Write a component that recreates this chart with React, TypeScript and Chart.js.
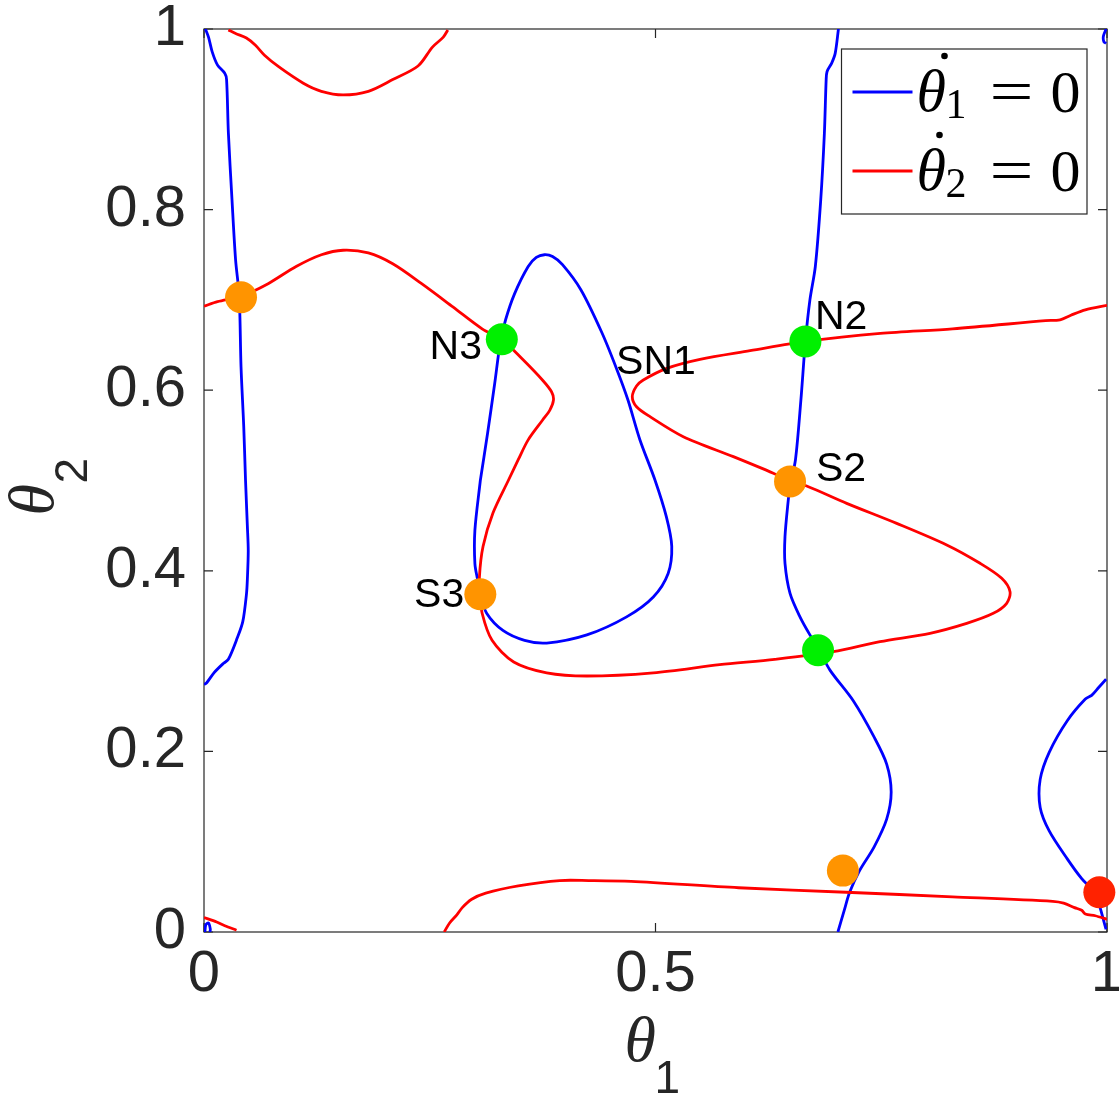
import React, { useEffect, useRef } from "react";
import { Chart, registerables } from "chart.js";

Chart.register(...registerables);

// ---------- data ----------
const xTickValues = [0, 0.5, 1];
const yTickValues = [0, 0.2, 0.4, 0.6, 0.8, 1];

// blue: theta1-dot = 0 nullcline pieces
const blueLeft: [number, number][] = [
  [0.0015, 1.0], [0.005, 0.991], [0.009, 0.975], [0.015, 0.96], [0.023, 0.951], [0.025, 0.944],
  [0.027, 0.885], [0.031, 0.811], [0.035, 0.744], [0.039, 0.704], [0.041, 0.626], [0.044, 0.56],
  [0.046, 0.5], [0.048, 0.45], [0.049, 0.422], [0.048, 0.39], [0.047, 0.374], [0.043, 0.344],
  [0.037, 0.326], [0.027, 0.302], [0.021, 0.297], [0.011, 0.287], [0.003, 0.276], [0.0, 0.274],
];
const blueMiddle: [number, number][] = [
  [0.7026, 1.0], [0.699, 0.973], [0.695, 0.962], [0.69, 0.953], [0.689, 0.944], [0.687, 0.884],
  [0.683, 0.811], [0.677, 0.737], [0.671, 0.7], [0.666, 0.654], [0.661, 0.589], [0.655, 0.523],
  [0.649, 0.494], [0.647, 0.478], [0.6434, 0.4378], [0.6434, 0.4083], [0.649, 0.375], [0.66, 0.349],
  [0.671, 0.329], [0.681, 0.313], [0.6932, 0.29], [0.719, 0.256], [0.742, 0.216], [0.756, 0.186],
  [0.761, 0.155], [0.756, 0.125], [0.742, 0.094], [0.726, 0.068], [0.715, 0.044], [0.709, 0.024],
  [0.702, 0.0],
];
const blueLoop: [number, number][] = [
  [0.306, 0.5], [0.3, 0.445], [0.3, 0.408], [0.303, 0.39], [0.306, 0.374], [0.313, 0.353],
  [0.331, 0.334], [0.355, 0.323], [0.3795, 0.32], [0.424, 0.329], [0.468, 0.349], [0.4976, 0.371],
  [0.514, 0.397], [0.518, 0.427], [0.512, 0.46], [0.4994, 0.5006], [0.4828, 0.5449], [0.4695, 0.5891],
  [0.4574, 0.6224], [0.4408, 0.6633], [0.4175, 0.711], [0.397, 0.739], [0.386, 0.748], [0.377, 0.75],
  [0.368, 0.747], [0.359, 0.737], [0.344, 0.707], [0.334, 0.678], [0.328, 0.652], [0.322, 0.608],
  [0.314, 0.552], [0.306, 0.5],
];
const blueRight: [number, number][] = [
  [0.999, 0.28], [0.991, 0.271], [0.983, 0.262], [0.976, 0.258], [0.956, 0.234], [0.936, 0.199],
  [0.926, 0.169], [0.926, 0.138], [0.936, 0.112], [0.956, 0.081], [0.972, 0.059], [0.987, 0.042],
  [0.999, 0.003],
];
const blueTopCorner: [number, number][] = [[0.999, 1.0], [0.996, 0.992], [0.9965, 0.986], [0.999, 0.984]];
const blueBottomCorner: [number, number][] = [[0.001, 0.0], [0.002, 0.008], [0.005, 0.01], [0.007, 0.003], [0.0065, 0.0]];

// red: theta2-dot = 0 nullcline pieces
const redTop: [number, number][] = [
  [0.027, 0.999], [0.035, 0.995], [0.047, 0.99], [0.057, 0.982], [0.067, 0.971], [0.083, 0.958],
  [0.11, 0.94], [0.13, 0.931], [0.154, 0.927], [0.182, 0.931], [0.209, 0.944], [0.237, 0.959],
  [0.253, 0.98], [0.265, 0.991], [0.27, 0.999],
];
const redMain: [number, number][] = [
  [0.0, 0.693], [0.015, 0.698], [0.041, 0.704], [0.071, 0.718], [0.102, 0.737], [0.13, 0.75],
  [0.154, 0.755], [0.182, 0.752], [0.209, 0.74], [0.241, 0.718], [0.276, 0.692], [0.308, 0.668],
  [0.33, 0.656], [0.352, 0.635], [0.375, 0.611], [0.385, 0.598], [0.387, 0.589], [0.383, 0.578],
  [0.375, 0.567], [0.359, 0.545], [0.348, 0.523], [0.337, 0.5], [0.32, 0.464], [0.309, 0.427],
  [0.305, 0.393], [0.306, 0.374], [0.308, 0.353], [0.319, 0.323], [0.343, 0.299], [0.3795, 0.287],
  [0.424, 0.2835], [0.4976, 0.287], [0.571, 0.296], [0.632, 0.302], [0.6969, 0.3104], [0.7486, 0.3215],
  [0.804, 0.3308], [0.8446, 0.3418], [0.8741, 0.3529], [0.8889, 0.364], [0.8926, 0.3769],
  [0.8834, 0.3917], [0.8594, 0.4083], [0.8225, 0.4286], [0.7671, 0.4525], [0.7117, 0.4747],
  [0.6674, 0.4939], [0.649, 0.499], [0.6305, 0.508], [0.5862, 0.5264], [0.5308, 0.5485],
  [0.4939, 0.5707], [0.479, 0.5817], [0.4743, 0.5928], [0.479, 0.6046], [0.4865, 0.6113],
  [0.5124, 0.6242], [0.5493, 0.6342], [0.6047, 0.6437], [0.666, 0.654], [0.749, 0.663],
  [0.829, 0.668], [0.932, 0.677], [0.948, 0.678], [0.96, 0.683], [0.976, 0.689], [1.0, 0.694],
];
const redBottom: [number, number][] = [
  [0.266, 0.0], [0.272, 0.01], [0.28, 0.019], [0.286, 0.027], [0.296, 0.036], [0.312, 0.043],
  [0.348, 0.051], [0.394, 0.057], [0.426, 0.057], [0.473, 0.056], [0.592, 0.049], [0.711, 0.044],
  [0.829, 0.039], [0.94, 0.034], [0.952, 0.032], [0.964, 0.027], [0.972, 0.024], [0.976, 0.02],
  [0.987, 0.018], [1.0, 0.014],
];
const redBottomCorner: [number, number][] = [[0.0, 0.016], [0.014, 0.011], [0.023, 0.007], [0.036, 0.002]];

// equilibria
const saddlePoints: [number, number][] = [[0.041, 0.703], [0.649, 0.499], [0.306, 0.374], [0.7075, 0.068]];
const nodePoints: [number, number][] = [[0.3298, 0.6564], [0.666, 0.654], [0.68, 0.312]];
const unstablePoints: [number, number][] = [[0.9915, 0.044]];

// annotation texts (data coordinates of the text anchor)
const pointLabels = [
  { text: "N3", x: 0.3079, y: 0.6467, align: "right" },
  { text: "SN1", x: 0.4563, y: 0.631, align: "left" },
  { text: "N2", x: 0.6766, y: 0.6805, align: "left" },
  { text: "S2", x: 0.6777, y: 0.5116, align: "left" },
  { text: "S3", x: 0.2882, y: 0.3721, align: "right" },
];

const legendItems = [
  { sub: "1", color: "#0000FF" },
  { sub: "2", color: "#FF0000" },
];

// ---------- styles ----------
const BLUE = "#0000FF";
const RED = "#FF0000";
const ORANGE = "#FF9400";
const GREEN = "#00F000";
const DOT_RED = "#FF2200";
const AXIS = "#262626";
const SANS = "'Liberation Sans', Arial, Helvetica, sans-serif";
const SERIF = "'Liberation Serif', 'Times New Roman', serif";

const toXY = (arr: [number, number][]) => arr.map(([x, y]) => ({ x, y }));

const curve = (data: [number, number][], color: string) => ({
  data: toXY(data),
  showLine: true,
  borderColor: color,
  backgroundColor: color,
  borderWidth: 2.8,
  pointRadius: 0,
  tension: 0.3,
  fill: false,
  order: color === RED ? 1 : 2,
});

const points = (data: [number, number][], color: string) => ({
  data: toXY(data),
  showLine: false,
  pointRadius: 16,
  pointBackgroundColor: color,
  pointBorderWidth: 0,
  borderWidth: 0,
  backgroundColor: color,
  borderColor: color,
  clip: false as any,
  order: 0,
});

const zeroPadding = (s: any) => {
  s.paddingTop = 0;
  s.paddingBottom = 0;
  s.paddingLeft = 0;
  s.paddingRight = 0;
};

const decorPlugin = {
  id: "decor",
  beforeDatasetsDraw(chart: any) {
    const { ctx, chartArea: a, scales } = chart;
    ctx.save();
    ctx.strokeStyle = AXIS;
    ctx.lineWidth = 1.2;
    ctx.strokeRect(a.left, a.top, a.right - a.left, a.bottom - a.top);
    const tl = 9;
    ctx.beginPath();
    for (const v of yTickValues) {
      const py = scales.y.getPixelForValue(v);
      ctx.moveTo(a.left, py);
      ctx.lineTo(a.left + tl, py);
      ctx.moveTo(a.right, py);
      ctx.lineTo(a.right - tl, py);
    }
    for (const v of xTickValues) {
      const px = scales.x.getPixelForValue(v);
      ctx.moveTo(px, a.bottom);
      ctx.lineTo(px, a.bottom - tl);
      ctx.moveTo(px, a.top);
      ctx.lineTo(px, a.top + tl);
    }
    ctx.stroke();
    ctx.restore();
  },
  afterDraw(chart: any) {
    const { ctx, chartArea: a, scales } = chart;
    ctx.save();

    // point labels
    ctx.fillStyle = "#000000";
    ctx.font = `41px ${SANS}`;
    ctx.textBaseline = "middle";
    for (const l of pointLabels) {
      ctx.textAlign = l.align as CanvasTextAlign;
      ctx.fillText(l.text, scales.x.getPixelForValue(l.x), scales.y.getPixelForValue(l.y));
    }

    // x axis title
    ctx.fillStyle = AXIS;
    ctx.textAlign = "left";
    ctx.textBaseline = "alphabetic";
    const cx = (a.left + a.right) / 2;
    ctx.font = `italic 64px ${SERIF}`;
    ctx.fillText("θ", cx - 31, a.bottom + 129);
    ctx.font = `46px ${SANS}`;
    ctx.fillText("1", cx - 1, a.bottom + 161);

    // y axis title (rotated)
    const cy = (a.top + a.bottom) / 2;
    ctx.save();
    ctx.translate(a.left - 151, cy + 35);
    ctx.rotate(-Math.PI / 2);
    ctx.font = `italic 64px ${SERIF}`;
    ctx.fillText("θ", 0, 0);
    ctx.font = `46px ${SANS}`;
    ctx.fillText("2", 32, 34);
    ctx.restore();

    // legend
    const bw = 245.5;
    const bh = 165;
    const bx = a.right - 20 - bw;
    const by = a.top + 20;
    ctx.fillStyle = "#FFFFFF";
    ctx.fillRect(bx, by, bw, bh);
    ctx.strokeStyle = AXIS;
    ctx.lineWidth = 1.2;
    ctx.strokeRect(bx, by, bw, bh);
    legendItems.forEach((it, i) => {
      const ry = by + 43 + i * 79;
      ctx.strokeStyle = it.color;
      ctx.lineWidth = 2.8;
      ctx.beginPath();
      ctx.moveTo(bx + 11, ry);
      ctx.lineTo(bx + 71, ry);
      ctx.stroke();
      ctx.fillStyle = "#000000";
      ctx.textAlign = "left";
      ctx.textBaseline = "alphabetic";
      ctx.font = `italic 60px ${SERIF}`;
      ctx.fillText("θ", bx + 75, ry + 19);
      ctx.beginPath();
      ctx.arc(bx + 103 - i * 5, ry - 36, 3.3, 0, Math.PI * 2);
      ctx.fill();
      ctx.font = `42px ${SERIF}`;
      ctx.fillText(it.sub, bx + 104, ry + 26);
      ctx.save();
      ctx.translate(bx + 148, ry + 19);
      ctx.scale(1.3, 1);
      ctx.font = `60px ${SERIF}`;
      ctx.fillText("=", 0, 0);
      ctx.restore();
      ctx.font = `60px ${SERIF}`;
      ctx.fillText("0", bx + 209, ry + 20);
    });

    ctx.restore();
  },
};

export default function App() {
  const canvasRef = useRef<HTMLCanvasElement | null>(null);

  useEffect(() => {
    if (!canvasRef.current) return;
    const chart = new Chart(canvasRef.current, {
      type: "scatter",
      data: {
        datasets: [
          points(unstablePoints, DOT_RED),
          points(nodePoints, GREEN),
          points(saddlePoints, ORANGE),
          curve(redMain, RED),
          curve(redTop, RED),
          curve(redBottom, RED),
          curve(redBottomCorner, RED),
          curve(blueLeft, BLUE),
          curve(blueMiddle, BLUE),
          curve(blueLoop, BLUE),
          curve(blueRight, BLUE),
          curve(blueTopCorner, BLUE),
          curve(blueBottomCorner, BLUE),
        ] as any,
      },
      options: {
        animation: false,
        responsive: false,
        events: [],
        layout: { padding: { top: 29, right: 12, left: 0, bottom: 0 }, autoPadding: false } as any,
        plugins: { legend: { display: false }, tooltip: { enabled: false } },
        scales: {
          x: {
            type: "linear",
            min: 0,
            max: 1,
            grid: { display: false, drawTicks: false },
            border: { display: false },
            afterBuildTicks: (s: any) => {
              s.ticks = xTickValues.map((v) => ({ value: v }));
            },
            afterFit: (s: any) => {
              s.height = 167;
              zeroPadding(s);
            },
            ticks: {
              padding: 8,
              maxRotation: 0,
              color: AXIS,
              font: { size: 58, family: SANS },
              callback: (v: any) => String(+(+v).toFixed(2)),
            },
          },
          y: {
            type: "linear",
            min: 0,
            max: 1,
            grid: { display: false, drawTicks: false },
            border: { display: false },
            afterBuildTicks: (s: any) => {
              s.ticks = yTickValues.map((v) => ({ value: v }));
            },
            afterFit: (s: any) => {
              s.width = 204;
              zeroPadding(s);
            },
            ticks: {
              padding: 18,
              color: AXIS,
              font: { size: 58, family: SANS },
              callback: (v: any) => String(+(+v).toFixed(2)),
            },
          },
        },
      },
      plugins: [decorPlugin],
    });
    return () => chart.destroy();
  }, []);

  return (
    <div style={{ position: "absolute", left: 0, top: 0, width: 1119, height: 1099, background: "#FFFFFF" }}>
      <canvas ref={canvasRef} width={1119} height={1099} style={{ display: "block" }} />
    </div>
  );
}
